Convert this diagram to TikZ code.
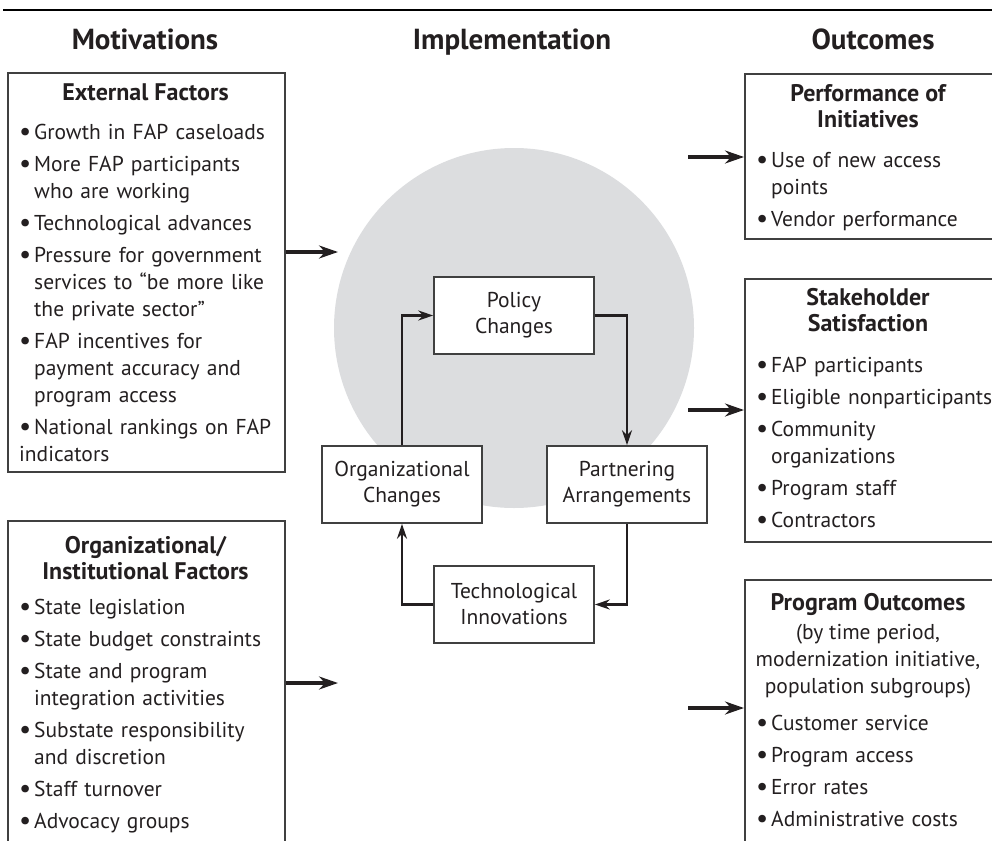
\documentclass[tikz,border=0pt]{standalone}
\usepackage{fontspec}
\setmainfont{PT Sans}
\usetikzlibrary{arrows.meta,positioning}
\definecolor{discgray}{RGB}{220,221,223}
\definecolor{inkgray}{RGB}{35,31,32}
\definecolor{rulegray}{RGB}{64,64,64}
\newcommand\bodyfont{\fontsize{21.5}{27}\selectfont}
\newcommand\stepfont{\fontsize{21.5}{26}\selectfont}
\newcommand\titlefont{\fontsize{24}{26.5}\selectfont\bfseries}
\newcommand\headfont{\fontsize{29}{30}\selectfont\bfseries}
\newcommand\listsetup{\raggedright\parskip=5pt\relax}
\newcommand\bl[1]{\par\hangindent=15pt\hangafter=1\noindent
  \makebox[15pt][l]{\raisebox{-1.5pt}{\fontsize{27}{27}\selectfont\textbullet}}#1}
\tikzset{
  factorbox/.style={draw=rulegray, line width=1.6pt, anchor=north west, inner sep=0pt},
  stepbox/.style={draw=rulegray, line width=1.6pt, fill=white, minimum width=160pt,
    minimum height=77pt, inner sep=0pt, align=center, font=\stepfont},
  boxtitle/.style={anchor=north, inner sep=0pt, align=center, font=\titlefont},
  subtitle/.style={anchor=north, inner sep=0pt, align=center, font=\bodyfont},
  itemlist/.style={anchor=north west, inner sep=0pt, text width=#1, font=\bodyfont},
  headline/.style={anchor=base, inner sep=0pt, font=\headfont},
  flow/.style={line width=3.4pt, -{Stealth[length=19pt,width=13pt]}},
  cycflow/.style={line width=2.6pt, -{Stealth[length=15pt,width=10pt]}}
}

\begin{document}
\begin{tikzpicture}[x=1pt, y=-1pt, inkgray]
  \useasboundingbox (0,0) rectangle (992,840);
  \clip (0,0) rectangle (992,840);
  % ---------------------
  \draw[line width=2.5pt, black] (3,10) -- (995,10);
  \node[headline] (motiv) at (145,50) {Motivations};
  \node[headline] (implem) at (512,50) {Implementation};
  \node[headline] (outc) at (873,50) {Outcomes};
  % ---------------------
  \node[circle, fill=discgray, minimum size=360pt, inner sep=0pt] (disc) at (514,328) {};
  % ---------------------
  \node[factorbox, minimum width=277pt, minimum height=399pt] (ext) at (7,72) {};
  \node[boxtitle] (extT) at (145.5,84) {External Factors};
  \node[itemlist=262pt] (extL) at (19,107) {\listsetup
    \bl{Growth in FAP caseloads}
    \bl{More FAP participants\newline who are working}
    \bl{Technological advances}
    \bl{Pressure for government\newline services to “be more like\newline the private sector”}
    \bl{FAP incentives for\newline payment accuracy and\newline program access}
    \bl{National rankings on FAP\newline indicators}};
  % ---------------------
  \node[factorbox, minimum width=277pt, minimum height=340pt] (inst) at (7,520) {};
  \node[boxtitle] (instT) at (145.5,536) {Organizational/\\Institutional Factors};
  \node[itemlist=262pt] (instL) at (19,582) {\listsetup
    \bl{State legislation}
    \bl{State budget constraints}
    \bl{State and program\newline integration activities}
    \bl{Substate responsibility\newline and discretion}
    \bl{Staff turnover}
    \bl{Advocacy groups}};
  % ---------------------
  \node[factorbox, minimum width=260pt, minimum height=165pt] (perf) at (744,73) {};
  \node[boxtitle] (perfT) at (868,84) {Performance of\\Initiatives};
  \node[itemlist=240pt] (perfL) at (756,135) {\listsetup
    \bl{Use of new access\newline points}
    \bl{Vendor performance}};
  % ---------------------
  \node[factorbox, minimum width=260pt, minimum height=263pt] (stake) at (744,278) {};
  \node[boxtitle] (stakeT) at (868,288) {Stakeholder\\Satisfaction};
  \node[itemlist=240pt] (stakeL) at (756,340) {\listsetup
    \bl{FAP participants}
    \bl{Eligible nonparticipants}
    \bl{Community\newline organizations}
    \bl{Program staff}
    \bl{Contractors}};
  % ---------------------
  \node[factorbox, minimum width=260pt, minimum height=290pt] (prog) at (744,579) {};
  \node[boxtitle] (progT) at (868,593) {Program Outcomes};
  \node[subtitle] (progS) at (868,624) {(by time period,\\modernization initiative,\\population subgroups)};
  \node[itemlist=240pt] (progL) at (756,698) {\listsetup
    \bl{Customer service}
    \bl{Program access}
    \bl{Error rates}
    \bl{Administrative costs}};
  % ---------------------
  \node[stepbox] (pol) at (514,315.5) {Policy\\Changes};
  \node[stepbox] (org) at (402,484.5) {Organizational\\Changes};
  \node[stepbox] (part) at (627,484.5) {Partnering\\Arrangements};
  \node[stepbox] (tech) at (514,604.5) {Technological\\Innovations};
  \draw[cycflow] (org.north) |- (pol.west);
  \draw[cycflow] (pol.east) -| (part.north);
  \draw[cycflow] (part.south) |- (tech.east);
  \draw[cycflow] (tech.west) -| (org.south);
  % ---------------------
  \coordinate (inExt) at (338,252);
  \coordinate (inInst) at (338,683);
  \coordinate (outPerf) at (688,157);
  \coordinate (outStake) at (688,410);
  \coordinate (outProg) at (688,708);
  \draw[flow] (ext.east |- inExt) -- (inExt);
  \draw[flow] (inst.east |- inInst) -- (inInst);
  \draw[flow] (outPerf) -- (perf.west |- outPerf);
  \draw[flow] (outStake) -- (stake.west |- outStake);
  \draw[flow] (outProg) -- (prog.west |- outProg);
\end{tikzpicture}
\end{document}
